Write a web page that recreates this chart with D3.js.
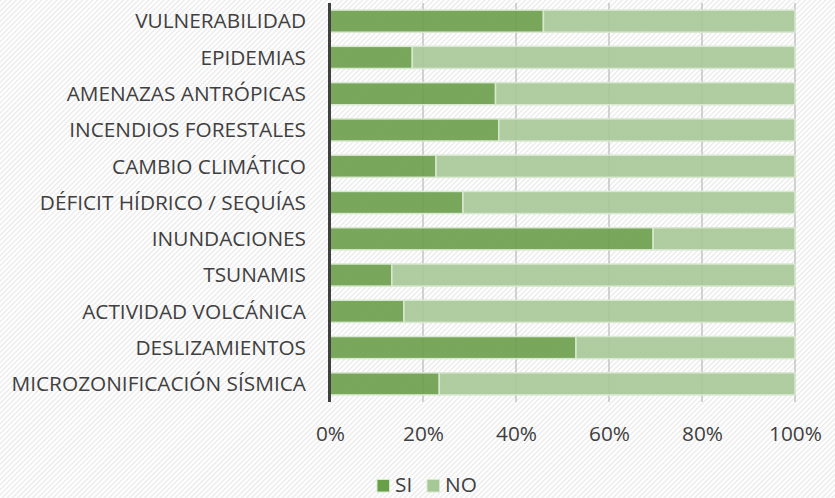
<!DOCTYPE html>
<html><head><meta charset="utf-8">
<script src="https://cdn.jsdelivr.net/npm/d3@7"></script>
<style>body{margin:0;background:#fff;}svg{display:block;}</style>
</head><body>
<svg id="c" width="835" height="498"></svg>
<script>
const categories = ["VULNERABILIDAD","EPIDEMIAS","AMENAZAS ANTRÓPICAS","INCENDIOS FORESTALES","CAMBIO CLIMÁTICO","DÉFICIT HÍDRICO / SEQUÍAS","INUNDACIONES ","TSUNAMIS","ACTIVIDAD VOLCÁNICA","DESLIZAMIENTOS","MICROZONIFICACIÓN SÍSMICA"];
const siValues = [45.9,17.7,35.6,36.3,22.8,28.6,69.5,13.3,15.9,52.9,23.5];
const noValues = siValues.map(v => 100 - v);
const seriesNames = ["SI","NO"];
const tickValues = [0,20,40,60,80,100];

const colors = {SI:"#6a9f4a", NO:"#a6c897"};
const FONT = "'Open Sans', sans-serif";
const svg = d3.select("#c");
const W=835,H=498;
const defs = svg.append("defs");
const pat = defs.append("pattern").attr("id","hatch").attr("patternUnits","userSpaceOnUse")
  .attr("width",3.6).attr("height",3.6).attr("patternTransform","rotate(45)");
pat.append("rect").attr("width",3.6).attr("height",3.6).attr("fill","#ffffff");
pat.append("rect").attr("width",1.5).attr("height",3.6).attr("fill","#ececec");
svg.append("rect").attr("width",W).attr("height",H).attr("fill","url(#hatch)");

const x = d3.scaleLinear().domain([0,100]).range([330,795]);
const y = d3.scaleBand().domain(categories).range([3,402]).paddingInner(0.39).paddingOuter(0.195);

// gridlines
svg.append("g").selectAll("line").data(tickValues.slice(1)).join("line")
  .attr("x1",d=>x(d)).attr("x2",d=>x(d)).attr("y1",3).attr("y2",402)
  .attr("stroke","#b8b8b8").attr("stroke-width",1.2);

const data = categories.map((c,i)=>({cat:c, SI:siValues[i], NO:noValues[i]}));
const stack = d3.stack().keys(seriesNames)(data);
svg.append("g").selectAll("g").data(stack).join("g")
  .attr("fill",d=>colors[d.key])
  .selectAll("rect").data(d=>d).join("rect")
  .attr("x",d=>x(d[0])).attr("width",d=>x(d[1])-x(d[0]))
  .attr("y",d=>y(d.data.cat)).attr("height",y.bandwidth())
  .attr("fill-opacity",0.9)
  .attr("stroke","#d9e8d1").attr("stroke-width",1.5);

// axis line
svg.append("line").attr("x1",329.5).attr("x2",329.5).attr("y1",3).attr("y2",402)
  .attr("stroke","#404040").attr("stroke-width",3);

// category labels
const yAxis = d3.axisLeft(y).tickSize(0).tickPadding(0);
const gy = svg.append("g").attr("transform","translate(306,0)").call(yAxis);
gy.select(".domain").remove();
gy.attr("font-family",null).attr("font-size",null);
gy.selectAll("text").style("font-family",FONT).style("font-size","20.8px").attr("fill","#404040").attr("dy","0.35em");

// x tick labels
const xAxis = d3.axisBottom(x).tickValues(tickValues).tickFormat(d=>d+"%").tickSize(0).tickPadding(0);
const gx = svg.append("g").attr("transform","translate(0,434)").call(xAxis);
gx.select(".domain").remove();
gx.attr("font-family",null).attr("font-size",null);
gx.selectAll("text").style("font-family",FONT).style("font-size","20.8px").attr("fill","#404040").attr("dy","0.35em").attr("y",0);

// legend
const leg = svg.append("g");
const legX = [377,427];
seriesNames.forEach((s,i)=>{
  leg.append("rect").attr("x",legX[i]).attr("y",479.5).attr("width",12.5).attr("height",12.5)
    .attr("fill",colors[s]).attr("stroke","#d9e8d1").attr("stroke-width",1);
  leg.append("text").attr("x",legX[i]+18).attr("y",485).attr("dy","0.35em")
    .style("font-family",FONT).style("font-size","20.8px").attr("fill","#404040").text(s);
});
</script>
</body></html>
